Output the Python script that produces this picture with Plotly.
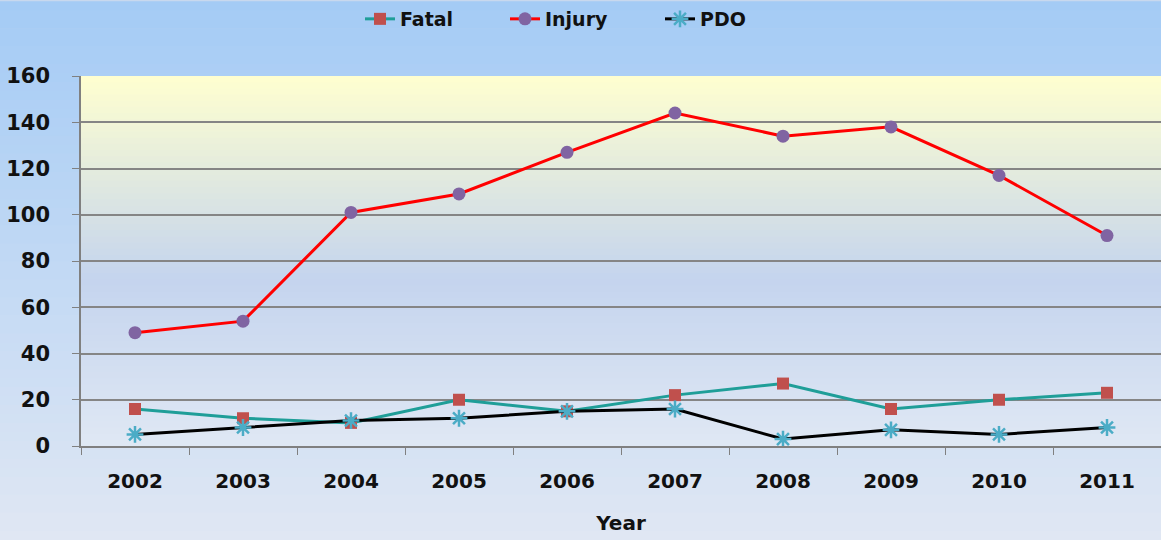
import plotly.graph_objects as go

# data
years = ["2002", "2003", "2004", "2005", "2006", "2007", "2008", "2009", "2010", "2011"]
fatal = [16, 12, 10, 20, 15, 22, 27, 16, 20, 23]
injury = [49, 54, 101, 109, 127, 144, 134, 138, 117, 91]
pdo = [5, 8, 11, 12, 15, 16, 3, 7, 5, 8]
y_ticks = [0, 20, 40, 60, 80, 100, 120, 140, 160]

W, H = 1161, 540
ML, MR, MT, MB = 81, 0, 75, 94
ph = H - MT - MB
pw = W - ML - MR


def mix(c1, c2, t):
    return "rgb(%d,%d,%d)" % tuple(round(a + (b - a) * t) for a, b in zip(c1, c2))


def grad(stops, t):
    for (t0, c0), (t1, c1) in zip(stops, stops[1:]):
        if t <= t1:
            return mix(c0, c1, (t - t0) / (t1 - t0))
    return mix(stops[-1][1], stops[-1][1], 0)


shapes = []
# figure background gradient (light blue at top, paler at bottom)
paper_stops = [(0, (164, 203, 245)), (1, (224, 231, 243))]
n = 60
y_top = 1 + MT / ph
y_bot = -MB / ph
for i in range(n):
    y0 = y_top - (y_top - y_bot) * i / n
    y1 = y_top - (y_top - y_bot) * (i + 1) / n
    shapes.append(dict(type="rect", xref="paper", yref="paper", layer="below",
                       x0=-ML / pw, x1=1.01, y0=y1 - 0.002, y1=y0,
                       fillcolor=grad(paper_stops, (i + 0.5) / n), line_width=0))

# plot area gradient (yellow at top, blue in the middle, pale at bottom)
plot_stops = [(0, (255, 255, 208)), (0.55, (196, 212, 238)), (1, (224, 232, 244))]
for i in range(n):
    y0 = 1 - i / n
    y1 = 1 - (i + 1) / n
    shapes.append(dict(type="rect", xref="paper", yref="paper", layer="below",
                       x0=0, x1=1.01, y0=y1 - 0.002, y1=y0,
                       fillcolor=grad(plot_stops, (i + 0.5) / n), line_width=0))

fig = go.Figure()
fig.add_trace(go.Scatter(x=years, y=fatal, name="Fatal", mode="lines+markers",
                         line=dict(color="#1f9e98", width=3), legend="legend",
                         marker=dict(symbol="square", size=12, color="#c0504d")))
fig.add_trace(go.Scatter(x=years, y=injury, name="Injury", mode="lines+markers",
                         line=dict(color="#ff0000", width=3), legend="legend2",
                         marker=dict(symbol="circle", size=13, color="#8064a2")))
fig.add_trace(go.Scatter(x=years, y=pdo, name="PDO", mode="lines+markers",
                         line=dict(color="#000000", width=3), legend="legend3",
                         marker=dict(symbol="asterisk-open", size=14, color="#4bacc6",
                                     line=dict(color="#4bacc6", width=2.5))))

font_bold = dict(family="DejaVu Sans", size=20, color="#111111", weight="bold")
legend_font = dict(family="DejaVu Sans", size=19, color="#111111", weight="bold")


def legend_at(px):
    return dict(orientation="h", x=(px - ML) / pw, xanchor="left",
                y=1 + (MT - 18) / ph, yanchor="middle", font=legend_font,
                bgcolor="rgba(0,0,0,0)")


fig.update_layout(
    width=W, height=H,
    margin=dict(l=ML, r=MR, t=MT, b=MB),
    paper_bgcolor="#c8d8ee",
    plot_bgcolor="rgba(0,0,0,0)",
    shapes=shapes,
    showlegend=True,
    legend=legend_at(360),
    legend2=legend_at(505),
    legend3=legend_at(660),
    xaxis=dict(type="category", range=[-0.5, 9.5], tickson="boundaries",
               ticks="outside", ticklen=7, tickcolor="#808080",
               showline=True, linecolor="#808080", linewidth=1.5,
               showgrid=False, tickfont=font_bold, ticklabelstandoff=16,
               title=dict(text="Year", font=font_bold, standoff=24)),
    yaxis=dict(range=[0, 160], tickvals=y_ticks, ticks="outside", ticklen=7,
               tickcolor="#808080", showline=True, linecolor="#808080",
               linewidth=1.5, showgrid=True, gridcolor="#858585", gridwidth=1.5,
               zeroline=False, ticklabelstandoff=18,
               tickfont=dict(family="DejaVu Sans", size=21,
                             color="#111111", weight="bold")),
)

fig.write_html("out.html", config={"displayModeBar": False},
               post_script="document.body.style.margin='0';")
